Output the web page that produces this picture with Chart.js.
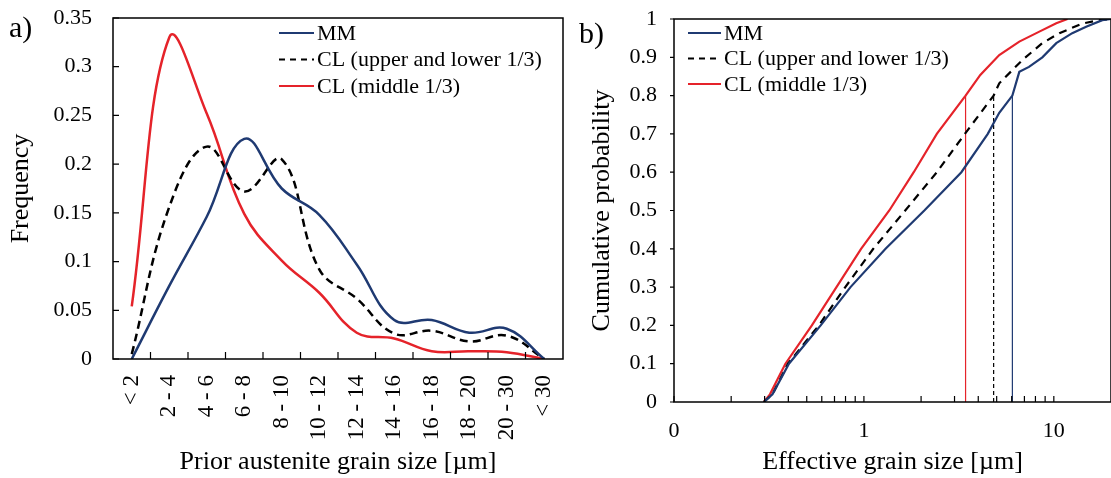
<!DOCTYPE html>
<html>
<head>
<meta charset="utf-8">
<title>Grain size distributions</title>
<script src="https://cdn.jsdelivr.net/npm/chart.js@4.4.0/dist/chart.umd.min.js"></script>
<style>
  html, body { margin: 0; padding: 0; background: #fff; }
  #wrap { position: relative; width: 1111px; height: 478px; overflow: hidden; font-family: 'Liberation Serif', 'Times New Roman', serif; }
  .panel { position: absolute; top: 0; height: 478px; }
  #boxA { left: 0; width: 580px; }
  #boxB { left: 580px; width: 531px; }
  .tag { position: absolute; font-size: 30px; line-height: 1; color: #000; }
</style>
</head>
<body>
<div id="wrap">
  <div class="panel" id="boxA"><canvas id="chartA"></canvas></div>
  <div class="panel" id="boxB"><canvas id="chartB"></canvas></div>
  <div class="tag" style="left:9px;top:12px">a)</div>
  <div class="tag" style="left:579px;top:18px">b)</div>
</div>

<script>
// ══════════════════════════════════════════════
//  a) prior austenite grain size – frequency
// ══════════════════════════════════════════════
var sizeClasses  = ['< 2', '2 - 4', '4 - 6', '6 - 8', '8 - 10', '10 - 12', '12 - 14', '14 - 16', '16 - 18', '18 - 20', '20 - 30', '< 30'];
var mmFreq       = [0, 0.075, 0.146, 0.226, 0.175, 0.148, 0.097, 0.040, 0.040, 0.027, 0.031, 0];
var clOuterFreq  = [0.005, 0.156, 0.218, 0.172, 0.205, 0.092, 0.062, 0.026, 0.029, 0.018, 0.024, 0];
var clMiddleFreq = [0.054, 0.330, 0.252, 0.149, 0.101, 0.068, 0.027, 0.021, 0.008, 0.008, 0.007, 0];

// ══════════════════════════════════════════════
//  b) effective grain size – cumulative probability
// ══════════════════════════════════════════════
var mmSize       = [0.297, 0.33, 0.403, 0.592, 0.85, 1.30, 2.08, 3.26, 4.49, 5.16, 6.05, 6.58, 7.4, 8.7, 10.3, 12.5, 14.8, 18, 20];
var mmCum        = [0, 0.02, 0.10, 0.20, 0.30, 0.40, 0.50, 0.60, 0.70, 0.755, 0.80, 0.862, 0.875, 0.90, 0.937, 0.963, 0.98, 0.997, 1];
var clOuterSize  = [0.297, 0.33, 0.398, 0.579, 0.798, 1.12, 1.65, 2.42, 3.40, 4.82, 5.16, 6.83, 8.7, 10.7, 14.1, 17.4, 20];
var clOuterCum   = [0, 0.02, 0.10, 0.20, 0.30, 0.40, 0.50, 0.60, 0.70, 0.80, 0.832, 0.893, 0.937, 0.963, 0.988, 0.997, 1];
var clMiddleSize = [0.297, 0.32, 0.386, 0.532, 0.717, 0.966, 1.36, 1.83, 2.42, 3.43, 4.1, 5.16, 6.58, 8.39, 10.3, 11.8];
var clMiddleCum  = [0, 0.02, 0.10, 0.20, 0.30, 0.40, 0.50, 0.60, 0.70, 0.80, 0.854, 0.906, 0.941, 0.967, 0.989, 1];

// d80 markers (size at cumulative 0.8)
var d80Sizes  = [6.05, 4.82, 3.43];
var d80Level  = 0.8;

var logMajorTicks = [0.1, 1, 10];
var logMinorTicks = [0.2, 0.3, 0.4, 0.5, 0.6, 0.7, 0.8, 0.9, 2, 3, 4, 5, 6, 7, 8, 9];

var SERIES_NAMES = ['MM', 'CL (upper and lower 1/3)', 'CL (middle 1/3)'];
var BLUE = '#1f3a72', RED = '#e5232a', BLACK = '#000000';
var FONT = "'Liberation Serif', 'Times New Roman', serif";

// ── Helpers ────────────────────────────────
function pairs(xs, ys) {
  return xs.map(function(x, i) { return { x: x, y: ys[i] }; });
}

function vline(x, color, dash) {
  return {
    data: [{ x: x, y: 0 }, { x: x, y: d80Level }],
    borderColor: color, borderWidth: 1.2, borderDash: dash || [],
    pointRadius: 0, showLine: true, tension: 0
  };
}

// the layout padding alone decides where the plot sits
function noScalePadding(s) {
  s.paddingTop = 0; s.paddingBottom = 0;
  s.paddingLeft = 0; s.paddingRight = 0;
}

// frame box, inward/outward tick marks and an in-plot legend
var decoPlugin = {
  id: 'deco',
  afterDraw: function(chart, args, o) {
    var a = chart.chartArea, ctx = chart.ctx;
    var xs = chart.scales.x, ys = chart.scales.y;
    ctx.save();
    ctx.strokeStyle = '#000';
    ctx.lineWidth = 1.5;
    ctx.strokeRect(a.left, a.top, a.right - a.left, a.bottom - a.top);

    // tick marks
    ctx.lineWidth = 1.2;
    ctx.beginPath();
    o.xMarks(xs).forEach(function(px) {
      ctx.moveTo(px, a.bottom); ctx.lineTo(px, a.bottom - o.xLen);
    });
    ys.ticks.forEach(function(t) {
      var py = ys.getPixelForValue(t.value);
      ctx.moveTo(a.left, py); ctx.lineTo(a.left + o.yLen, py);
    });
    ctx.stroke();

    // legend
    ctx.font = o.legendFont + ' ' + FONT;
    ctx.textBaseline = 'middle';
    ctx.textAlign = 'left';
    ctx.fillStyle = '#000';
    var lx = a.left + o.legendX, ly = a.top + o.legendY;
    chart.data.datasets.forEach(function(ds) {
      if (!ds.label) return;
      ctx.beginPath();
      ctx.strokeStyle = ds.borderColor;
      ctx.lineWidth = 2.2;
      ctx.setLineDash(ds.borderDash && ds.borderDash.length ? [6, 5] : []);
      ctx.moveTo(lx, ly); ctx.lineTo(lx + o.legendLine, ly);
      ctx.stroke();
      ctx.setLineDash([]);
      ctx.fillText(ds.label, lx + o.legendLine + 3, ly + 1);
      ly += o.legendRow;
    });
    ctx.restore();
  }
};

var tickFont  = { family: FONT, size: 22 };
var rotFont   = { family: FONT, size: 23 };
var titleFont = { family: FONT, size: 26 };

// ── Panel a ────────────────────────────────
new Chart(document.getElementById('chartA'), {
  type: 'line',
  data: {
    labels: sizeClasses,
    datasets: [
      { label: SERIES_NAMES[0], data: mmFreq, borderColor: BLUE, borderWidth: 2.5, tension: 0.4, pointRadius: 0 },
      { label: SERIES_NAMES[1], data: clOuterFreq, borderColor: BLACK, borderWidth: 2.5, borderDash: [8, 5], tension: 0.4, pointRadius: 0 },
      { label: SERIES_NAMES[2], data: clMiddleFreq, borderColor: RED, borderWidth: 2.5, tension: 0.4, pointRadius: 0 }
    ]
  },
  options: {
    responsive: true,
    maintainAspectRatio: false,
    animation: false,
    layout: { padding: { top: 18, right: 17, left: 0, bottom: 0 } },
    plugins: {
      legend: { display: false },
      tooltip: { enabled: false },
      deco: {
        xMarks: function(s) {
          var out = [];
          for (var i = 1; i < sizeClasses.length; i++) {
            out.push((s.getPixelForValue(i - 1) + s.getPixelForValue(i)) / 2);
          }
          return out;
        },
        xLen: 7, yLen: 6,
        legendFont: '22px', legendX: 166, legendY: 15, legendRow: 26.5, legendLine: 35
      }
    },
    scales: {
      x: {
        type: 'category',
        offset: true,
        grid: { display: false, drawTicks: false },
        border: { display: false },
        ticks: { autoSkip: false, minRotation: 90, maxRotation: 90, padding: 16, color: '#000', font: rotFont },
        title: { display: true, text: 'Prior austenite grain size [µm]', color: '#000', font: titleFont, padding: { top: 0, bottom: 0 } },
        afterFit: function(s) { s.height = 119; noScalePadding(s); }
      },
      y: {
        min: 0, max: 0.35,
        grid: { display: false, drawTicks: false },
        border: { display: false },
        ticks: { stepSize: 0.05, padding: 21, color: '#000', font: tickFont,
                 callback: function(v) { return String(+v.toFixed(2)); } },
        title: { display: true, text: 'Frequency', color: '#000', font: titleFont, padding: { top: 6, bottom: 0 } },
        afterFit: function(s) { s.width = 113; noScalePadding(s); }
      }
    }
  },
  plugins: [decoPlugin]
});

// ── Panel b ────────────────────────────────
new Chart(document.getElementById('chartB'), {
  type: 'scatter',
  data: {
    datasets: [
      { label: SERIES_NAMES[0], data: pairs(mmSize, mmCum), borderColor: BLUE, borderWidth: 2.2, showLine: true, tension: 0, pointRadius: 0 },
      { label: SERIES_NAMES[1], data: pairs(clOuterSize, clOuterCum), borderColor: BLACK, borderWidth: 2.2, borderDash: [8, 6], showLine: true, tension: 0, pointRadius: 0 },
      { label: SERIES_NAMES[2], data: pairs(clMiddleSize, clMiddleCum), borderColor: RED, borderWidth: 2.2, showLine: true, tension: 0, pointRadius: 0 },
      vline(d80Sizes[0], BLUE),
      vline(d80Sizes[1], BLACK, [4, 3]),
      vline(d80Sizes[2], RED)
    ]
  },
  options: {
    responsive: true,
    maintainAspectRatio: false,
    animation: false,
    layout: { padding: { top: 19, right: 0, left: 0, bottom: 0 } },
    plugins: {
      legend: { display: false },
      tooltip: { enabled: false },
      deco: {
        xMarks: function(s) {
          return logMajorTicks.concat(logMinorTicks).map(function(v) { return s.getPixelForValue(v); });
        },
        xLen: 6, yLen: -4,
        legendFont: '22px', legendX: 14, legendY: 14, legendRow: 25.5, legendLine: 33
      }
    },
    scales: {
      x: {
        type: 'logarithmic',
        min: 0.1, max: 20,
        grid: { display: false, drawTicks: false },
        border: { display: false },
        afterBuildTicks: function(s) {
          s.ticks = logMajorTicks.map(function(v) { return { value: v, major: true }; });
        },
        ticks: { padding: 16, color: '#000', font: tickFont, maxRotation: 0,
                 callback: function(v) { return v < 1 ? '0' : String(v); } },
        title: { display: true, text: 'Effective grain size [µm]', color: '#000', font: titleFont, padding: { top: 0, bottom: 0 } },
        afterFit: function(s) { s.height = 76; noScalePadding(s); }
      },
      y: {
        min: 0, max: 1,
        grid: { display: false, drawTicks: false },
        border: { display: false },
        ticks: { stepSize: 0.1, padding: 17, color: '#000', font: tickFont,
                 callback: function(v) { return String(+v.toFixed(1)); } },
        title: { display: true, text: 'Cumulative probability', color: '#000', font: titleFont, padding: { top: 7, bottom: 0 } },
        afterFit: function(s) { s.width = 94; noScalePadding(s); }
      }
    }
  },
  plugins: [decoPlugin]
});
</script>
</body>
</html>
